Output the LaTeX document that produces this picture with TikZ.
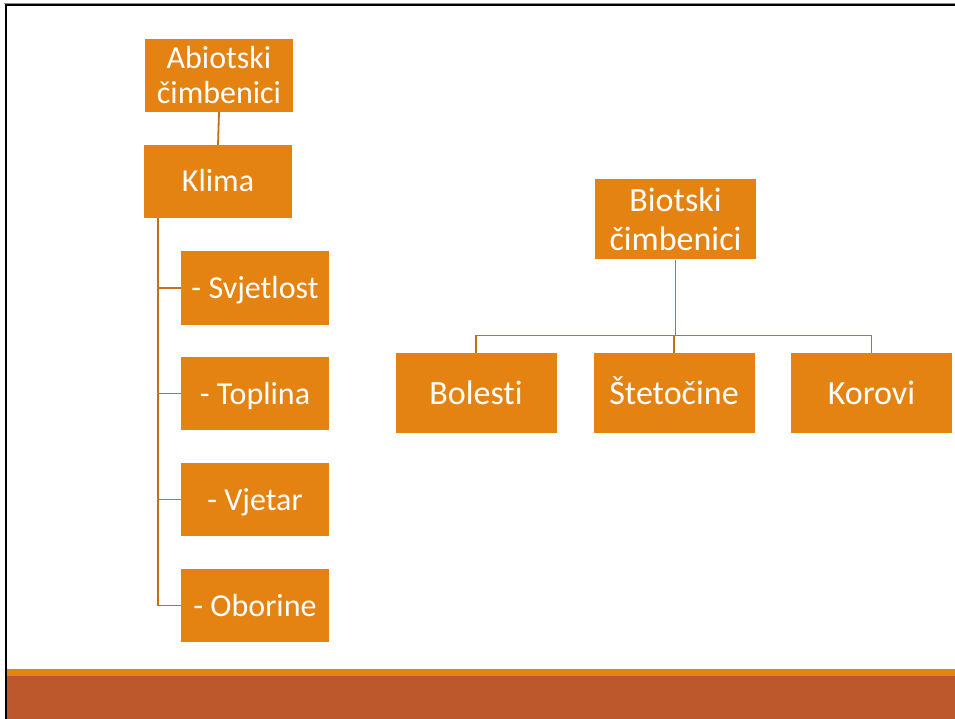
\documentclass[tikz,border=0pt]{standalone}
\usepackage{fontspec}
\setmainfont[Ligatures={NoCommon}]{Carlito}
\definecolor{accorange}{HTML}{E48312}
\definecolor{accrust}{HTML}{BD582C}
\definecolor{connline}{HTML}{C46E1A}
\begin{document}
\begin{tikzpicture}[x=1pt,y=-1pt,
  box/.style={fill=accorange, text=white, inner sep=0pt, align=center, anchor=center},
  lbox/.style={box, minimum width=148pt, minimum height=73pt, font=\fontsize{32}{35}\selectfont},
  rbox/.style={box, minimum width=161pt, minimum height=80pt, font=\fontsize{34}{39}\selectfont},
  lone/.style={text height=26pt, text depth=5pt},
  rone/.style={text height=28pt, text depth=6pt},
  conn/.style={draw=connline, line width=1.8pt}]
\useasboundingbox (0,0) rectangle (955,719);
\fill[white] (0,0) rectangle (955,719);
% bottom bands
\fill[accorange] (5,669) rectangle (955,676);
\fill[accrust] (5,676) rectangle (955,719);
% slide frame
\draw[black!45, line width=1pt] (4,3.5) -- (955,3.5);
\draw[black, line width=2pt] (6,5) -- (955,5);
\draw[black, line width=2pt] (6,4) -- (6,719);
% left tree
\node[lbox] (abio) at (219,75.5) {Abiotski\\čimbenici};
\node[lbox, lone] (klima) at (218,181.5) {Klima};
\node[lbox, lone] (svj) at (255,288) {- Svjetlost};
\node[lbox, lone] (topl) at (255,393.5) {- Toplina};
\node[lbox, lone] (vje) at (255,499.5) {- Vjetar};
\node[lbox, lone] (obo) at (255,605.5) {- Oborine};
\coordinate (kv) at (158,218);
\draw[conn] (abio.south) -- (klima.north);
\draw[conn] (kv) |- (obo.west);
\draw[conn] (kv |- svj.west) -- (svj.west);
\draw[conn] (kv |- topl.west) -- (topl.west);
\draw[conn] (kv |- vje.west) -- (vje.west);
% right tree
\node[rbox] (bio) at (675.5,219.5) {Biotski\\čimbenici};
\node[rbox, rone] (bol) at (476,393) {Bolesti};
\node[rbox, rone] (ste) at (674,393) {Štetočine};
\node[rbox, rone] (kor) at (871.5,393) {Korovi};
\coordinate (hb) at (675,335.5);
\draw[conn] (bio.south) -- (bio.south |- hb);
\draw[conn] (bol.north) -- (bol.north |- hb) -- (kor.north |- hb) -- (kor.north);
\draw[conn] (ste.north) -- (ste.north |- hb);
\end{tikzpicture}
\end{document}
